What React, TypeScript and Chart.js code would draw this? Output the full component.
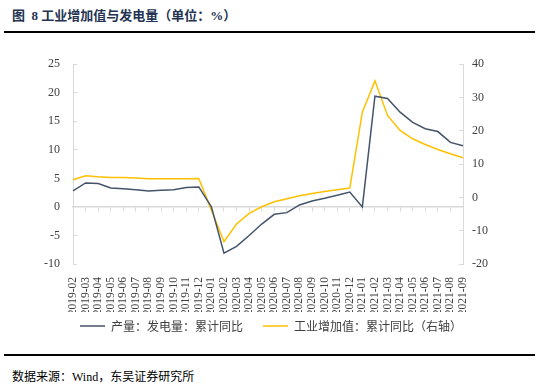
import React, { useEffect, useRef } from "react";
import { Chart, registerables } from "chart.js";
Chart.register(...registerables);

const months = [
  "2019-02", "2019-03", "2019-04", "2019-05", "2019-06", "2019-07", "2019-08", "2019-09", "2019-10", "2019-11", "2019-12",
  "2020-01", "2020-02", "2020-03", "2020-04", "2020-05", "2020-06", "2020-07", "2020-08", "2020-09", "2020-10", "2020-11", "2020-12",
  "2021-01", "2021-02", "2021-03", "2021-04", "2021-05", "2021-06", "2021-07", "2021-08", "2021-09",
];

// 产量：发电量：累计同比 (left axis)
const powerYoY = [
  2.8, 4.2, 4.1, 3.3, 3.2, 3.0, 2.8, 2.9, 3.0, 3.4, 3.5,
  0, -8.1, -6.9, -5.0, -3.0, -1.3, -1.0, 0.35, 1.05, 1.5, 2.05, 2.6,
  0, 19.4, 19.0, 16.6, 14.8, 13.7, 13.2, 11.3, 10.7,
];

// 工业增加值：累计同比 (right axis)
const industryYoY = [
  5.3, 6.5, 6.2, 6.0, 6.0, 5.8, 5.6, 5.6, 5.6, 5.6, 5.7,
  null, -13.3, -8.0, -4.8, -2.8, -1.3, -0.4, 0.5, 1.2, 1.8, 2.3, 2.8,
  25.6, 35.0, 24.6, 20.1, 17.6, 15.9, 14.4, 13.1, 11.9,
];

const leftTicks = { min: -10, max: 25, step: 5 };
const rightTicks = { min: -20, max: 40, step: 10 };

const seriesNames = ["产量：发电量：累计同比", "工业增加值：累计同比（右轴）"];
const seriesColors = ["#44546A", "#FFC000"];

const axisGray = "#d9d9d9";
const textGray = "#404040";
const serif = "'Liberation Serif', 'Noto Sans CJK SC', serif";

export default function App() {
  const ref = useRef<HTMLCanvasElement>(null);
  useEffect(() => {
    document.body.style.margin = "0";
    const chart = new Chart(ref.current!, {
      type: "line",
      data: {
        labels: months,
        datasets: [
          {
            label: seriesNames[0],
            data: powerYoY,
            borderColor: seriesColors[0],
            backgroundColor: seriesColors[0],
            borderWidth: 1.5,
            pointRadius: 0,
            yAxisID: "y",
            xAxisID: "x",
          },
          {
            label: seriesNames[1],
            data: industryYoY as any,
            borderColor: seriesColors[1],
            backgroundColor: seriesColors[1],
            borderWidth: 1.5,
            pointRadius: 0,
            spanGaps: true,
            yAxisID: "y1",
            xAxisID: "x",
          },
        ],
      },
      options: {
        animation: false,
        responsive: true,
        maintainAspectRatio: false,
        layout: { padding: { left: 30, right: 28, top: 18, bottom: -2 } },
        plugins: {
          tooltip: { enabled: false },
          legend: {
            position: "bottom",
            labels: {
              usePointStyle: true,
              pointStyle: "line",
              pointStyleWidth: 25,
              color: textGray,
              padding: 8,
              font: { family: "'Noto Sans CJK SC'", size: 12 },
              generateLabels: (c: any) => {
                const items = Chart.defaults.plugins.legend.labels.generateLabels(c);
                return items.map((it: any, i: number) => ({
                  ...it,
                  text: i < items.length - 1 ? it.text + "\u3000" : it.text,
                }));
              },
            },
          },
        },
        scales: {
          x: {
            type: "category",
            position: "bottom",
            grid: { display: false },
            border: { display: false },
            afterFit: (scale: any) => {
              scale.height = 48;
            },
            ticks: {
              autoSkip: false,
              minRotation: 90,
              maxRotation: 90,
              color: textGray,
              padding: 5,
              font: { family: serif, size: 11.5 },
            },
          },
          x2: {
            type: "category",
            labels: months,
            position: { y: 0 } as any,
            grid: { display: true, drawOnChartArea: false, tickLength: 4, color: axisGray },
            border: { color: axisGray, width: 1.5 },
            ticks: { display: false },
          },
          y: {
            position: "left",
            min: leftTicks.min,
            max: leftTicks.max,
            afterFit: (scale: any) => {
              scale.width = 43;
            },
            ticks: { stepSize: leftTicks.step, color: textGray, padding: 17, font: { family: serif, size: 12 } },
            grid: { display: true, drawOnChartArea: false, tickLength: -4, color: axisGray },
            border: { color: axisGray, width: 1 },
          },
          y1: {
            position: "right",
            min: rightTicks.min,
            max: rightTicks.max,
            afterFit: (scale: any) => {
              scale.width = 49;
            },
            ticks: { stepSize: rightTicks.step, color: textGray, padding: 13, font: { family: serif, size: 12 } },
            grid: { display: true, drawOnChartArea: false, tickLength: -4, color: axisGray },
            border: { color: axisGray, width: 1 },
          },
        },
      },
    });
    return () => chart.destroy();
  }, []);

  return (
    <div style={{ position: "relative", width: 540, height: 388, background: "#fff", fontFamily: serif }}>
      <div style={{ position: "absolute", left: 12, top: 5, fontSize: 13, fontWeight: "bold", color: "#243352", whiteSpace: "nowrap" }}>
        图&nbsp;&nbsp;8 工业增加值与发电量（单位：%）
      </div>
      <div style={{ position: "absolute", left: 4, top: 31, width: 531, height: 2, background: "#000" }} />
      <div style={{ position: "absolute", left: 0, top: 40, width: 540, height: 300 }}>
        <canvas ref={ref} />
      </div>
      <div style={{ position: "absolute", left: 4, top: 354, width: 531, height: 2, background: "#000" }} />
      <div style={{ position: "absolute", left: 12, top: 367, fontSize: 12, color: "#000", whiteSpace: "nowrap" }}>
        数据来源：Wind，东吴证券研究所
      </div>
    </div>
  );
}
